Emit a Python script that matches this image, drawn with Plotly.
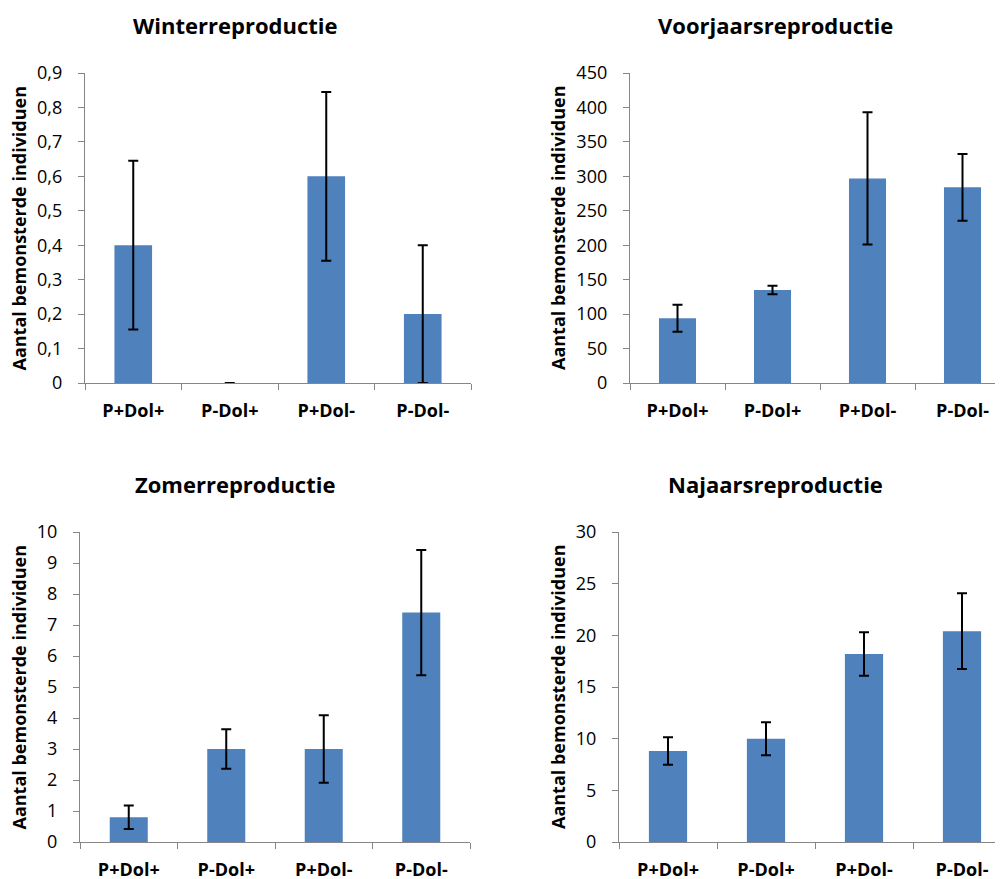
import plotly.graph_objects as go

# The page body has an 8px margin, so the figure is drawn 8px in and down.
OFF = 8
W, H = 1003 - OFF, 879 - OFF

categories = ["P+Dol+", "P-Dol+", "P+Dol-", "P-Dol-"]

titles = ["Winterreproductie", "Voorjaarsreproductie", "Zomerreproductie", "Najaarsreproductie"]
y_axis_title = "Aantal bemonsterde individuen"

winter_vals = [0.4, 0.0, 0.6, 0.2]
winter_err = [0.245, 0.0, 0.245, 0.2]

spring_vals = [94, 135, 297, 284]
spring_err = [19.5, 6, 96, 48.5]

summer_vals = [0.8, 3.0, 3.0, 7.4]
summer_err = [0.38, 0.64, 1.09, 2.02]

autumn_vals = [8.8, 10.0, 18.2, 20.4]
autumn_err = [1.33, 1.6, 2.1, 3.67]

y_max = [0.9, 450, 10, 30]
y_dtick = [0.1, 50, 1, 5]

BAR = "#4F81BD"
AXIS = "#868686"
FONT = "Open Sans"

# panel geometry in screen pixels: (x_left, x_right, y_top, y_bottom, category width)
panels = [
    (85, 471, 73, 383, 96.5),
    (630, 1003, 73, 383, 95.0),
    (80, 470, 532, 842, 97.5),
    (619, 1003, 532, 842, 98.0),
]
title_pos = [(235, 25), (775, 25), (235, 484), (775, 484)]
ytitle_x = [18.5, 558, 18.5, 558]


def px(x):
    return (x - OFF) / W


def py(y):
    return 1 - (y - OFF) / H


series = [(winter_vals, winter_err), (spring_vals, spring_err),
          (summer_vals, summer_err), (autumn_vals, autumn_err)]

fig = go.Figure()
annotations = []
for i, ((vals, errs), (xl, xr, yt, yb, cw)) in enumerate(zip(series, panels)):
    n = "" if i == 0 else str(i + 1)
    fig.add_trace(go.Bar(
        x=categories, y=vals,
        marker=dict(color=BAR, line=dict(width=0)),
        error_y=dict(type="data", array=errs, color="black", thickness=2, width=5),
        xaxis="x" + n, yaxis="y" + n, showlegend=False,
    ))
    xr_end = -0.5 + (xr - xl) / cw
    fig.update_layout(**{
        "xaxis" + n: dict(
            domain=[px(xl), min(1, px(xr))], anchor="y" + n, automargin=False,
            type="category", range=[-0.5, xr_end],
            showline=True, linecolor=AXIS, linewidth=1.3,
            ticks="outside", ticklen=6, tickcolor=AXIS, tickwidth=1.3,
            tickson="boundaries", showgrid=False, zeroline=False,
            tickfont=dict(family=FONT, size=18, color="black", weight="bold"),
            ticklabelstandoff=11,
        ),
        "yaxis" + n: dict(
            domain=[py(yb), py(yt)], anchor="x" + n, automargin=False,
            range=[0, y_max[i]], dtick=y_dtick[i], tick0=0,
            showline=True, linecolor=AXIS, linewidth=1.3,
            ticks="outside", ticklen=6, tickcolor=AXIS, tickwidth=1.3,
            showgrid=False, zeroline=False,
            tickfont=dict(family=FONT, size=18, color="black"),
            ticklabelstandoff=12,
        ),
    })
    tx, ty = title_pos[i]
    annotations.append(dict(
        text=titles[i], x=px(tx), y=py(ty), xref="paper", yref="paper",
        xanchor="center", yanchor="middle", showarrow=False,
        font=dict(family=FONT, size=22, color="black", weight="bold"),
    ))
    annotations.append(dict(
        text=y_axis_title, x=px(ytitle_x[i]), y=py((yt + yb) / 2),
        xref="paper", yref="paper", xanchor="center", yanchor="middle",
        textangle=-90, showarrow=False,
        font=dict(family=FONT, size=18, color="black", weight="bold"),
    ))

fig.update_layout(
    width=W, height=H,
    margin=dict(l=0, r=0, t=0, b=0),
    paper_bgcolor="white", plot_bgcolor="white",
    bargap=0.61,
    separators=",.",
    annotations=annotations,
    font=dict(family=FONT),
)

fig.write_html("out.html")
